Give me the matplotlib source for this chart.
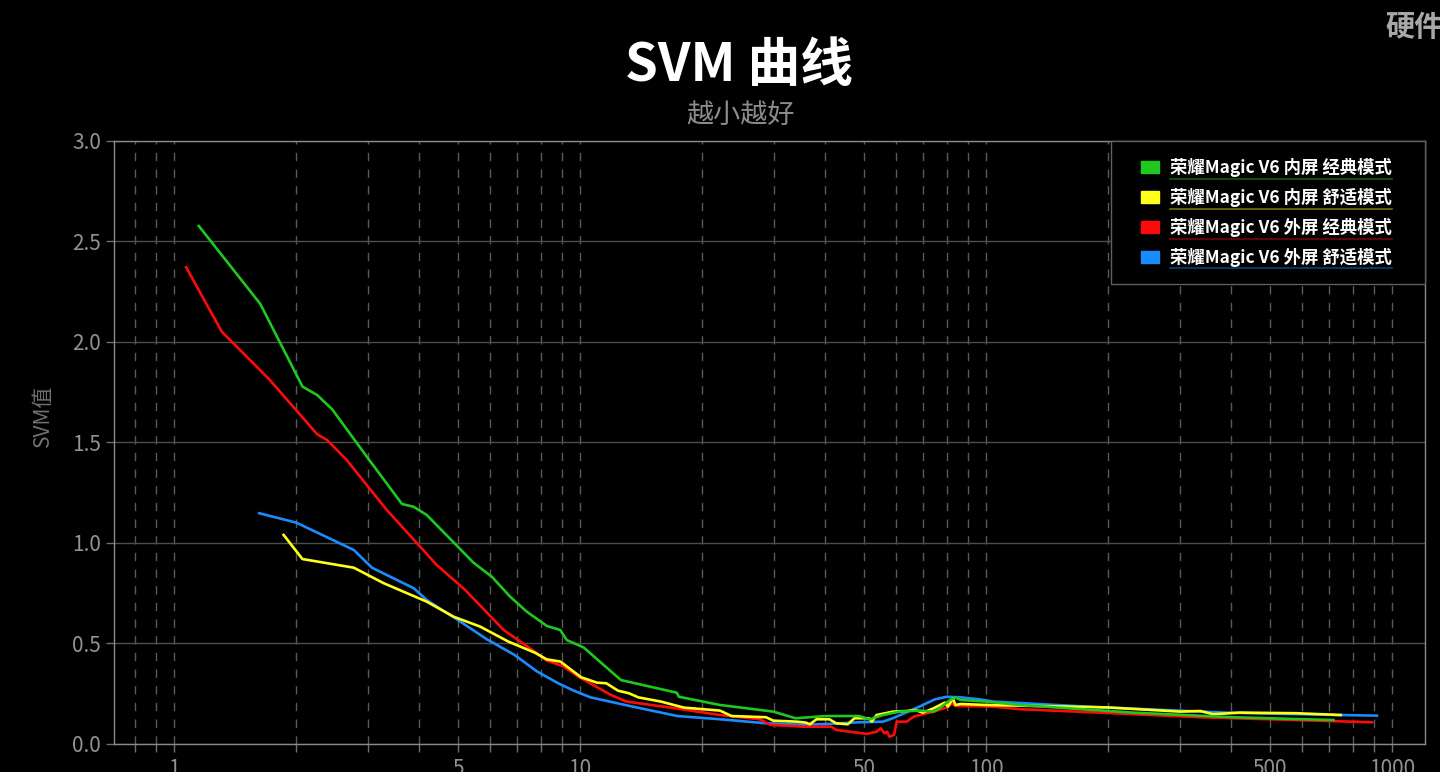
import numpy as np
import matplotlib
matplotlib.use('Agg')
import matplotlib.pyplot as plt
from matplotlib.patches import Patch, Rectangle
from matplotlib.lines import Line2D
from matplotlib.legend_handler import HandlerPatch
from matplotlib.ticker import FixedLocator, LogLocator, NullFormatter, FuncFormatter

plt.rcParams['font.family'] = ['Noto Sans CJK SC', 'DejaVu Sans']

# 荣耀Magic V6 内屏 经典模式
green_x = [1.15, 1.63, 2.07, 2.25, 2.45, 2.98, 3.64, 3.89, 4.19, 5.46, 6.06, 6.72, 7.39, 8.28, 8.93, 9.27,
           10.2, 12.6, 17.3, 17.5, 22.1, 29.9, 33.9, 40.4, 48.6, 51.7, 55.7, 61.2, 68.5, 74.3, 77.7, 81.5,
           84, 86.5, 100, 121, 158, 230, 405, 717]
green_y = [2.577, 2.189, 1.778, 1.736, 1.665, 1.43, 1.194, 1.18, 1.139, 0.902, 0.832, 0.733, 0.658, 0.587, 0.567, 0.517,
           0.48, 0.318, 0.255, 0.235, 0.194, 0.161, 0.128, 0.139, 0.139, 0.123, 0.144, 0.161, 0.166, 0.161, 0.186, 0.219,
           0.232, 0.219, 0.211, 0.194, 0.178, 0.156, 0.133, 0.119]

# 荣耀Magic V6 内屏 舒适模式
yellow_x = [1.86, 2.07, 2.77, 3.28, 4.19, 4.88, 5.67, 6.66, 7.74, 8.27, 8.94, 10.05, 11.0, 11.6, 12.4, 13.2, 13.9,
            15.8, 18.0, 22.1, 23.6, 28.7, 29.9, 34.2, 36.0, 36.8, 38.2, 41.1, 42.7, 45.6, 47.4, 51.4, 52.3, 53.7,
            59, 63.7, 66.8, 69.9, 74.3, 79.1, 80.5, 82.8, 84, 86.5, 100, 198, 300, 337, 362, 422, 582, 747]
yellow_y = [1.04, 0.92, 0.877, 0.80, 0.708, 0.633, 0.584, 0.509, 0.454, 0.421, 0.41, 0.332, 0.305, 0.302, 0.265, 0.252, 0.232,
            0.211, 0.181, 0.166, 0.139, 0.133, 0.116, 0.111, 0.106, 0.098, 0.123, 0.123, 0.103, 0.098, 0.128, 0.128, 0.111, 0.144,
            0.161, 0.164, 0.169, 0.156, 0.178, 0.206, 0.186, 0.227, 0.194, 0.199, 0.194, 0.182, 0.161, 0.164, 0.148, 0.156, 0.153, 0.144]

# 荣耀Magic V6 外屏 经典模式
red_x = [1.07, 1.31, 1.72, 2.25, 2.38, 2.66, 3.34, 4.43, 5.21, 6.48, 7.52, 8.27, 9.05, 9.96, 11.9, 13.0, 17.1, 22.1,
         27.7, 29.4, 35.5, 41.5, 42.7, 50.8, 53.7, 55, 56.2, 57, 57.8, 59.3, 60.2, 63.7, 66.3, 74.3, 80, 82.4, 84,
         104, 121, 190, 337, 892]
red_y = [2.372, 2.051, 1.811, 1.541, 1.512, 1.413, 1.164, 0.891, 0.766, 0.567, 0.476, 0.415, 0.388, 0.332, 0.244, 0.211, 0.178, 0.144,
         0.123, 0.095, 0.086, 0.086, 0.070, 0.05, 0.061, 0.078, 0.053, 0.061, 0.036, 0.045, 0.111, 0.111, 0.136, 0.161, 0.182, 0.202, 0.189,
         0.186, 0.173, 0.156, 0.133, 0.108]

# 荣耀Magic V6 外屏 舒适模式
blue_x = [1.62, 2.0, 2.77, 3.07, 3.89, 4.19, 4.97, 5.89, 6.89, 7.84, 8.83, 9.65, 10.6, 12.9, 17.35, 22.1, 28.7, 35.5,
          41.1, 48.6, 55.7, 58.9, 68.5, 74.8, 80, 86.5, 96.4, 104, 176, 386, 747, 917]
blue_y = [1.148, 1.101, 0.965, 0.877, 0.775, 0.716, 0.62, 0.521, 0.443, 0.36, 0.302, 0.265, 0.232, 0.194, 0.139, 0.123, 0.103, 0.095,
          0.1, 0.108, 0.111, 0.128, 0.186, 0.222, 0.235, 0.232, 0.222, 0.211, 0.186, 0.156, 0.144, 0.141]

labels = ['荣耀Magic V6 内屏 经典模式', '荣耀Magic V6 内屏 舒适模式',
          '荣耀Magic V6 外屏 经典模式', '荣耀Magic V6 外屏 舒适模式']
colors = ['#1ec81e', '#ffff1a', '#ff0a0a', '#1a8cff']
xticks = [1, 5, 10, 50, 100, 500, 1000]

fig = plt.figure(figsize=(14.4, 7.72), dpi=100, facecolor='black')
ax = fig.add_axes([0.0792, 0.0363, 0.9104, 0.7811])
ax.set_facecolor('black')

series = [(green_x, green_y), (yellow_x, yellow_y), (red_x, red_y), (blue_x, blue_y)]
# draw in reverse so the green one ends up at the top
for i in range(3, -1, -1):
    xs, ys = series[i]
    ax.plot(xs, ys, color=colors[i], lw=1.9, zorder=3 + (3 - i), solid_joinstyle='round')

ax.set_xscale('log')
ax.set_xlim(0.711, 1205)
ax.set_ylim(0, 3.0)
ax.xaxis.set_major_locator(FixedLocator(xticks))
ax.xaxis.set_major_formatter(FuncFormatter(lambda v, p: '{:g}'.format(v)))
ax.xaxis.set_minor_locator(LogLocator(base=10, subs=np.arange(1, 10)))
ax.xaxis.set_minor_formatter(NullFormatter())
ax.set_yticks(np.arange(0, 3.01, 0.5))
ax.yaxis.set_major_formatter(FuncFormatter(lambda v, p: '{:.1f}'.format(v)))

ax.grid(True, axis='y', color='#4d4d4d', lw=1.0, ls='-')
ax.grid(True, axis='x', which='both', color='#5a5a5a', lw=1.0, ls=(0, (6, 6)))
ax.set_axisbelow(True)

for sp in ax.spines.values():
    sp.set_color('#8a8a8a')
    sp.set_linewidth(1.0)

ax.tick_params(axis='both', which='both', color='#707070', length=6, width=1.0,
               labelcolor='#929292', labelsize=15)
ax.tick_params(axis='x', which='both', pad=4)
for t in ax.get_xticklabels() + ax.get_yticklabels():
    t.set_fontweight('light')

ax.set_ylabel('SVM值', color='#727272', fontsize=15)
ax.yaxis.set_label_coords(-0.0457, 0.545)

fig.text(0.513, 0.915, 'SVM 曲线', color='white', fontsize=38, fontweight='bold',
         ha='center', va='center')
fig.text(0.514, 0.851, '越小越好', color='#8c8c8c', fontsize=19.5, fontweight='light',
         ha='center', va='center')
fig.text(0.962, 0.965, '硬件', color='#a8a8a8', fontsize=21, fontweight='bold',
         ha='left', va='center')


def small_square(legend, orig_handle, xdescent, ydescent, width, height, fontsize):
    # colour square of one font-size wide, pushed to the right of the handle slot
    w = fontsize * 1.0
    return Rectangle((-xdescent + width - w, -ydescent), w, height)


handles = [Patch(facecolor=c, edgecolor=c) for c in colors]
leg = ax.legend(handles, [s + '    ' for s in labels], loc='upper right', bbox_to_anchor=(1.0, 1.0),
                borderaxespad=0, fontsize=12.5, frameon=True, fancybox=False,
                facecolor='black', edgecolor='#5f5f5f', framealpha=1,
                handlelength=1.72, handleheight=0.7, handletextpad=0.65,
                labelspacing=0.62, borderpad=1.0,
                handler_map={Patch: HandlerPatch(patch_func=small_square)})
leg.get_frame().set_linewidth(1.0)
for t in leg.get_texts():
    t.set_color('white')
    t.set_fontweight('bold')

# thin coloured underline under each legend entry
fig.canvas.draw()
for t, c, s in zip(leg.get_texts(), colors, labels):
    bb = t.get_window_extent()
    tmp = fig.text(0, 0, s, fontsize=12.5, fontweight='bold')
    w = tmp.get_window_extent().width
    tmp.remove()
    fig.add_artist(Line2D([bb.x0, bb.x0 + w], [bb.y0 - 1.5, bb.y0 - 1.5], transform=None,
                          color=c, alpha=0.45, lw=1.2))

fig.savefig('out.png', dpi=100, facecolor='black')
